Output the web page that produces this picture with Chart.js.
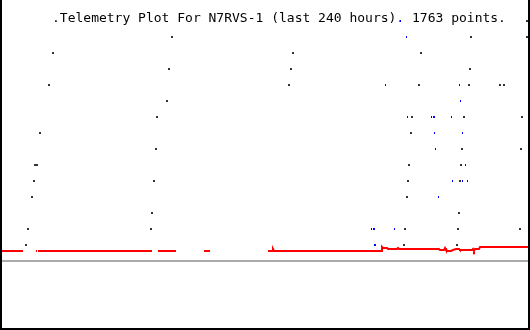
<!DOCTYPE html>
<html>
<head>
<meta charset="utf-8">
<script src="https://cdn.jsdelivr.net/npm/chart.js@4"></script>
<style>
  html, body { margin: 0; padding: 0; background: #fff; }
  #wrap { width: 530px; height: 330px; }
</style>
</head>
<body>
<div id="wrap"><canvas id="plot" width="530" height="330"></canvas></div>
<script>
// --- Datos (horas 0..240, nivel de canal) ---
const titleText = '.Telemetry Plot For N7RVS-1 (last 240 hours). 1763 points.';

const blackHours = [11.77, 12.68, 14.49, 15.40, 15.85, 16.75, 18.11, 22.19, 24.00,
  68.38, 68.83, 69.74, 70.64, 71.09, 75.62, 76.53, 77.89,
  130.87, 131.77, 132.68,
  182.94, 183.40, 184.30, 184.75, 185.21, 186.11, 186.57, 189.74, 190.64,
  206.94, 207.40, 207.85, 208.30, 208.75, 209.21, 210.11, 212.38, 212.83, 213.28,
  226.42, 228.23, 235.47, 235.92, 236.38, 238.64, 238.64];
const blackLevel = [1, 2, 4, 5, 6, 6, 8, 11, 13,
  2, 3, 5, 7, 9, 10, 12, 14,
  11, 12, 13,
  1, 2, 4, 5, 6, 8, 9, 11, 13,
  1, 2, 3, 5, 6, 7, 9, 11, 12, 14,
  11, 11, 2, 7, 9, 14, 15];

const blueHours = [168.00, 168.45, 168.91, 169.36, 169.81, 170.26, 174.79, 178.42, 181.58,
  183.85, 184.75, 195.17, 195.62, 196.08, 196.53, 196.98, 197.43, 198.34, 204.23,
  204.68, 208.30, 208.75, 209.21, 209.66, 210.57, 211.92];
const blueLevel = [2, 2, 2, 2, 1, 1, 11, 2, 15,
  14, 9, 9, 9, 9, 9, 8, 7, 4, 9,
  5, 11, 10, 5, 8, 6, 5];

// null = hueco en la serie
const redHours = [0, 10.42, 10.9, 16.30, 16.75, 17.0, 17.21, 68.83, 70.0, 71.55, 79.70, 85.0,
  92.38, 95.09, 110.0, 121.36, 123.17, 123.62, 124.08, 172.53, 172.98, 173.43, 175.25,
  175.70, 179.77, 180.23, 180.68, 198.79, 199.25, 201.06, 201.51, 201.96, 202.87, 204.23,
  205.13, 206.49, 207.85, 208.30, 213.74, 214.19, 214.64, 215.09, 216.91, 217.36, 240];
const redLevel = [0.625, 0.625, null, 0.625, 0.625, null, 0.625, 0.625, null, 0.625, 0.625, null,
  0.625, 0.625, null, 0.625, 0.625, 0.75, 0.625, 0.625, 0.875, 0.8125, 0.8125,
  0.75, 0.75, 0.8125, 0.75, 0.75, 0.6875, 0.6875, 0.8125, 0.6875, 0.625, 0.625,
  0.6875, 0.75, 0.75, 0.6875, 0.6875, 0.75, 0.625, 0.75, 0.75, 0.875, 0.875];

const zeroHours = [0, 240];
const zeroLevel = [0, 0];

// --- Helpers ---
const toPoints = (xs, ys) => xs.map((x, i) => ({ x, y: ys[i] }));
const dotImage = (w, h, color) => {
  const c = document.createElement('canvas');
  c.width = w; c.height = h;
  const g = c.getContext('2d');
  g.fillStyle = color;
  g.fillRect(0, 0, w, h);
  return c;
};

const frameAndTitle = {
  id: 'frameAndTitle',
  beforeDatasetsDraw: chart => {
    const ctx = chart.ctx;
    ctx.save();
    ctx.fillStyle = '#000';
    ctx.font = '13px "DejaVu Sans Mono", monospace';
    ctx.textBaseline = 'alphabetic';
    ctx.fillText(titleText, 52, 22);
    ctx.restore();
    ctx.imageSmoothingEnabled = false;
  },
  afterDraw: chart => {
    const ctx = chart.ctx;
    ctx.save();
    ctx.fillStyle = '#000';
    ctx.fillRect(0, 0, 2, 330);
    ctx.fillRect(528, 0, 2, 330);
    ctx.fillRect(0, 328, 530, 2);
    ctx.restore();
  }
};

// --- Grafico ---
new Chart(document.getElementById('plot').getContext('2d'), {
  type: 'scatter',
  data: {
    datasets: [
      { data: toPoints(blueHours, blueLevel), pointStyle: dotImage(1, 2, '#0000ff'), pointRadius: 1, borderWidth: 0 },
      { data: toPoints(blackHours, blackLevel), pointStyle: dotImage(2, 2, '#333333'), pointRadius: 1, borderWidth: 0 },
      { type: 'line', data: toPoints(redHours, redLevel), borderColor: '#ff0000', borderWidth: 2,
        pointRadius: 0, spanGaps: false, borderCapStyle: 'butt', tension: 0 },
      { type: 'line', data: toPoints(zeroHours, zeroLevel), borderColor: '#aaaaaa', borderWidth: 2,
        pointRadius: 0, borderCapStyle: 'butt' }
    ]
  },
  options: {
    responsive: false,
    animation: false,
    events: [],
    layout: { padding: 0, autoPadding: false },
    plugins: { legend: { display: false }, tooltip: { enabled: false }, title: { display: false } },
    scales: {
      x: { type: 'linear', min: 0, max: 240, display: false },
      y: { min: -4.3125, max: 16.3125, display: false }
    }
  },
  plugins: [frameAndTitle]
});
</script>
</body>
</html>
